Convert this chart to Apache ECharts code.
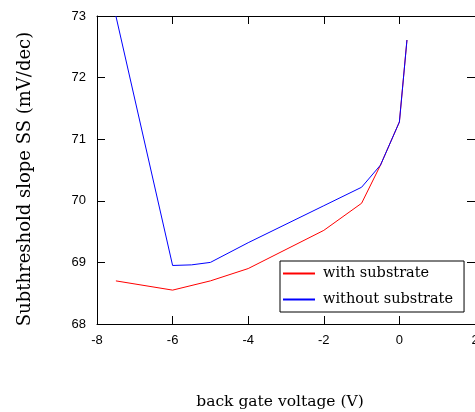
<!DOCTYPE html>
<html>
<head>
<meta charset="utf-8">
<script src="https://cdn.jsdelivr.net/npm/echarts@6/dist/echarts.min.js"></script>
<style>
  html, body { margin: 0; padding: 0; background: #fff; }
  #chart { width: 475px; height: 412px; }
</style>
</head>
<body>
<div id="chart"></div>
<script>
// back gate voltage (V)
const withSubX = [-7.5, -6, -5, -4, -2, -1, -0.5, 0, 0.2];
const withSubY = [68.7, 68.55, 68.7, 68.9, 69.52, 69.96, 70.58, 71.28, 72.61];
const withoutSubX = [-7.5, -6, -5.5, -5, -4, -2, -1, -0.5, 0, 0.2];
const withoutSubY = [73.0, 68.95, 68.96, 69.0, 69.32, 69.92, 70.22, 70.58, 71.28, 72.61];

const seriesNames = ['with substrate', 'without substrate'];

function pairs(xs, ys) {
    return xs.map(function (x, i) { return [x, ys[i]]; });
}

const chart = echarts.init(document.getElementById('chart'));

const labelFont = { color: '#000', fontSize: 13, fontFamily: 'Liberation Sans' };
const axisLine = { show: true, onZero: false, lineStyle: { color: '#000', width: 1 } };
const axisTick = { show: true, inside: true, length: 8, lineStyle: { color: '#000' } };

const option = {
    animation: false,
    backgroundColor: '#fff',
    grid: { left: 97, top: 16, right: 0, bottom: 88, outerBoundsMode: 'none', containLabel: false },
    legend: {
        orient: 'vertical',
        left: 280,
        top: 261,
        data: seriesNames,
        padding: [5, 11, 5, 2],
        itemGap: 11,
        itemWidth: 32,
        itemHeight: 17,
        itemStyle: { opacity: 0 },
        borderColor: '#000',
        borderWidth: 1,
        backgroundColor: '#fff',
        textStyle: { color: '#000', fontSize: 14.5, fontFamily: 'DejaVu Serif', padding: [0, 0, 0, 3] }
    },
    xAxis: [{
        type: 'value',
        min: -8, max: 2, interval: 2,
        name: 'back gate voltage (V)',
        nameLocation: 'middle',
        nameGap: 70,
        nameTextStyle: { color: '#000', fontSize: 15.5, fontFamily: 'DejaVu Serif', padding: [0, 12, 0, 0] },
        axisLine: axisLine,
        axisTick: axisTick,
        axisLabel: Object.assign({ margin: 10 }, labelFont),
        splitLine: { show: false }
    }, {
        type: 'value',
        position: 'top',
        min: -8, max: 2, interval: 2,
        axisLine: axisLine,
        axisTick: axisTick,
        axisLabel: { show: false },
        splitLine: { show: false }
    }],
    yAxis: [{
        type: 'value',
        min: 68, max: 73, interval: 1,
        name: 'Subthreshold slope SS (mV/dec)',
        nameLocation: 'middle',
        nameGap: 63,
        nameTextStyle: { color: '#000', fontSize: 18, fontFamily: 'DejaVu Serif', padding: [0, 18, 0, 0] },
        axisLine: axisLine,
        axisTick: axisTick,
        axisLabel: Object.assign({ margin: 11 }, labelFont),
        splitLine: { show: false }
    }, {
        type: 'value',
        position: 'right',
        min: 68, max: 73, interval: 1,
        axisLine: axisLine,
        axisTick: axisTick,
        axisLabel: { show: false },
        splitLine: { show: false }
    }],
    series: [{
        name: seriesNames[0],
        type: 'line',
        data: pairs(withSubX, withSubY),
        symbol: 'none',
        color: '#ff0000',
        lineStyle: { color: '#ff0000', width: 1 }
    }, {
        name: seriesNames[1],
        type: 'line',
        data: pairs(withoutSubX, withoutSubY),
        symbol: 'none',
        color: '#0000ff',
        lineStyle: { color: '#0000ff', width: 1 }
    }]
};

chart.setOption(option);
</script>
</body>
</html>
